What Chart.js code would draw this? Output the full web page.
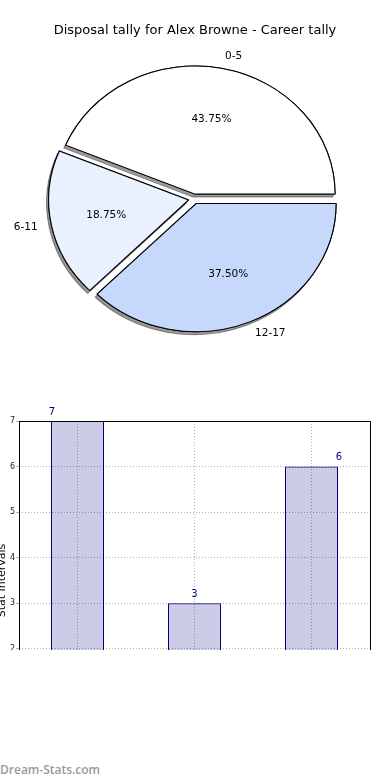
<!DOCTYPE html>
<html>
<head>
<meta charset="utf-8">
<script src="https://cdn.jsdelivr.net/npm/chart.js@4.4.1/dist/chart.umd.min.js"></script>
<style>
  body { margin: 0; width: 390px; height: 780px; background: #fff; position: relative; overflow: hidden; font-family: "DejaVu Sans", sans-serif; }
  #title { position: absolute; top: 22px; left: 0; width: 390px; text-align: center; font-size: 13px; color: #000; }
  #pieBox { position: absolute; left: 0; top: 0; width: 390px; height: 400px; }
  #barBox { position: absolute; left: 0; top: 400px; width: 390px; height: 250px; overflow: hidden; }
  #barWrap { position: absolute; left: -4px; top: 0; width: 394px; height: 370px; }
  #footer { position: absolute; left: 0; top: 761px; font-family: "Open Sans", sans-serif; font-weight: 600; font-size: 12px; color: #999; }
</style>
</head>
<body>
<div id="pieBox"><canvas id="pieChart"></canvas></div>
<div id="title">Disposal tally for Alex Browne - Career tally</div>
<div id="barBox"><div id="barWrap"><canvas id="barChart"></canvas></div></div>
<div id="footer">Dream-Stats.com</div>
<script>
const categories = ['0-5', '6-11', '12-17'];
const tallies = [7, 3, 6];
const yTicks = [0, 1, 2, 3, 4, 5, 6, 7];

// styles kept apart from the data
const sliceColours = ['#ffffff', '#eaf1fe', '#c6d9fd'];
const labelAnchor = ['start', 'center', 'end'];

const SX = 140 / 128;   // the picture is a stretched pie
const EXPLODE = 5;

function arcShift(arc) {
    const m = (arc.startAngle + arc.endAngle) / 2;
    return { m: m, dx: Math.cos(m) * EXPLODE * SX, dy: Math.sin(m) * EXPLODE };
}

const piePainter = {
    id: 'piePainter',
    beforeDatasetDraw(chart, args) {
        const ctx = chart.ctx;
        const arcs = args.meta.data;
        const paint = (withShadow) => arcs.forEach(arc => {
            const s = arcShift(arc);
            ctx.save();
            if (withShadow) {
                ctx.shadowColor = 'rgba(0,0,0,0.4)';
                ctx.shadowOffsetX = -2;
                ctx.shadowOffsetY = 3;
                ctx.shadowBlur = 0;
            }
            ctx.translate(arc.x + s.dx, arc.y + s.dy);
            ctx.scale(SX, 1);
            ctx.translate(-arc.x, -arc.y);
            arc.draw(ctx);
            ctx.restore();
        });
        paint(true);
        paint(false);
        return false;
    },
    afterDraw(chart) {
        const ctx = chart.ctx;
        const meta = chart.getDatasetMeta(0);
        const data = chart.data.datasets[0].data;
        const total = data.reduce((a, b) => a + b, 0);
        ctx.save();
        ctx.font = '10.5px "DejaVu Sans"';
        ctx.fillStyle = '#000';
        ctx.textBaseline = 'middle';
        meta.data.forEach((arc, i) => {
            const s = arcShift(arc);
            const r = arc.outerRadius;
            const ux = Math.cos(s.m) * SX;
            const uy = Math.sin(s.m);
            const ox = arc.x + s.dx;
            const oy = arc.y + s.dy;
            ctx.textAlign = Math.cos(s.m) > 0 ? 'left' : 'right';
            ctx.fillText(chart.data.labels[i], ox + ux * r * 1.1, oy + uy * r * 1.1);
            ctx.textAlign = 'center';
            ctx.fillText((data[i] / total * 100).toFixed(2) + '%', ox + ux * r * 0.6, oy + uy * r * 0.6);
        });
        ctx.restore();
    }
};

// pie goes counter-clockwise from 3 o'clock, chart.js goes clockwise, so reverse
new Chart(document.getElementById('pieChart'), {
    type: 'pie',
    data: {
        labels: [...categories].reverse(),
        datasets: [{
            data: [...tallies].reverse(),
            backgroundColor: [...sliceColours].reverse(),
            borderColor: '#000',
            borderWidth: 1
        }]
    },
    options: {
        animation: false,
        responsive: true,
        maintainAspectRatio: false,
        events: [],
        rotation: 90,
        radius: 128,
        layout: { padding: { top: 0, right: 2, bottom: 2, left: 0 } },
        plugins: { legend: { display: false }, tooltip: { enabled: false } }
    },
    plugins: [piePainter]
});

const frame = {
    id: 'frame',
    afterDatasetsDraw(chart) {
        const a = chart.chartArea;
        const ctx = chart.ctx;
        ctx.save();
        ctx.strokeStyle = '#000';
        ctx.lineWidth = 1;
        ctx.strokeRect(Math.round(a.left) + 0.5, Math.round(a.top) + 0.5,
            Math.round(a.right - a.left), Math.round(a.bottom - a.top));
        ctx.restore();
    }
};

const valueLabels = {
    id: 'valueLabels',
    afterDatasetsDraw(chart) {
        const ctx = chart.ctx;
        const meta = chart.getDatasetMeta(0);
        ctx.save();
        ctx.font = '10px "DejaVu Sans"';
        ctx.fillStyle = '#000080';
        ctx.textAlign = 'center';
        ctx.textBaseline = 'middle';
        meta.data.forEach((bar, i) => {
            const half = bar.width / 2;
            let x = bar.x;
            if (labelAnchor[i] === 'start') x = bar.x - half + 1;
            if (labelAnchor[i] === 'end') x = bar.x + half + 1;
            ctx.fillText(String(tallies[i]), x, bar.y - 9);
        });
        ctx.restore();
    }
};

new Chart(document.getElementById('barChart'), {
    type: 'bar',
    data: {
        labels: categories,
        datasets: [{
            data: tallies,
            backgroundColor: 'rgba(0,0,128,0.2)',
            borderColor: '#000080',
            borderWidth: 1,
            barPercentage: 53 / 117,
            categoryPercentage: 1
        }]
    },
    options: {
        animation: false,
        responsive: true,
        maintainAspectRatio: false,
        events: [],
        layout: { padding: { top: 21, right: 20, bottom: 0, left: 0 } },
        plugins: { legend: { display: false }, tooltip: { enabled: false } },
        scales: {
            x: {
                afterFit: s => { s.height = 30; },
                grid: { offset: false, color: '#b0b0b0', tickLength: 3 },
                border: { display: false, dash: [1, 2] },
                ticks: { font: { family: 'DejaVu Sans', size: 9 }, color: '#000' }
            },
            y: {
                min: 0,
                max: 7,
                afterBuildTicks: s => { s.ticks = yTicks.map(v => ({ value: v })); },
                afterFit: s => { s.width = 23; },
                grid: { color: '#b0b0b0', tickLength: 3 },
                border: { display: false, dash: [1, 2] },
                ticks: { font: { family: 'DejaVu Sans', size: 8 }, color: '#222', padding: 1 },
                title: { display: true, text: 'Stat Intervals', font: { family: 'DejaVu Sans', size: 11 }, color: '#000', padding: 0 }
            }
        }
    },
    plugins: [frame, valueLabels]
});
</script>
</body>
</html>
